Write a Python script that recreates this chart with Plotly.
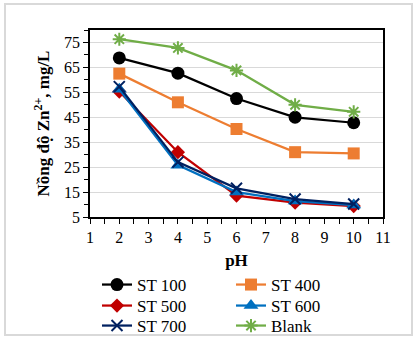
import plotly.graph_objects as go

ph = [2, 4, 6, 8, 10]
st100 = [68.8, 62.7, 52.5, 45.0, 42.8]
st400 = [62.5, 51.0, 40.3, 31.0, 30.5]
st500 = [55.3, 31.0, 13.6, 10.8, 9.4]
st600 = [56.2, 25.8, 15.0, 11.4, 9.8]
st700 = [57.3, 27.0, 16.5, 12.2, 10.2]
blank = [76.3, 72.8, 63.8, 50.0, 47.2]

names = ["ST 100", "ST 400", "ST 500", "ST 600", "ST 700", "Blank"]
values = [st100, st400, st500, st600, st700, blank]
colors = ["#000000", "#ED7D31", "#C00000", "#0070C0", "#002060", "#70AD47"]
symbols = ["circle", "square", "diamond", "triangle-up", "x-thin-open", "asterisk-open"]
sizes = [13, 12, 11, 13, 11, 11]

W, H = 415, 341
L, R, T, B = 90, 383, 30, 217
# legend slots (pixel positions): left x, centre y
leg_pos = [(97, 285), (231, 285), (97, 306), (231, 306), (97, 326), (231, 326)]

serif = "'Times New Roman', 'Liberation Serif', 'DejaVu Serif', serif"


def px_x(p):
    return (p - L) / (R - L)


def px_y(p):
    return (B - p) / (B - T)


fig = go.Figure()
layout_legends = {}
for i, (name, ys, col, sym, sz) in enumerate(zip(names, values, colors, symbols, sizes)):
    marker = dict(symbol=sym, size=sz, color=col)
    if sym.endswith("open"):
        marker["line"] = dict(color=col, width=2)
    key = "legend" if i == 0 else f"legend{i + 1}"
    fig.add_trace(go.Scatter(
        x=ph, y=ys, name=name, mode="lines+markers", showlegend=True,
        line=dict(color=col, width=2.25), marker=marker, legend=key,
    ))
    lx, ly = leg_pos[i]
    layout_legends[key] = dict(
        x=px_x(lx), y=px_y(ly), xanchor="left", yanchor="middle",
        font=dict(family=serif, size=17, color="#000000"),
        bgcolor="rgba(0,0,0,0)", borderwidth=0, visible=True,
    )

fig.update_layout(
    width=W, height=H, showlegend=True,
    margin=dict(l=L, r=W - R, t=T, b=H - B, autoexpand=False),
    paper_bgcolor="white", plot_bgcolor="white",
    font=dict(family=serif, size=16, color="#000000"),
    xaxis=dict(
        range=[1, 11], dtick=1, tick0=1, showgrid=False, zeroline=False,
        showline=True, linecolor="#000000", linewidth=1.5, mirror=True,
        ticks="outside", ticklen=5, tickcolor="#000000",
        minor=dict(dtick=0.5, ticks="outside", ticklen=5, tickcolor="#000000"),
        title=dict(text="<b>pH</b>", font=dict(family=serif, size=17), standoff=9),
        tickfont=dict(family=serif, size=16),
    ),
    yaxis=dict(
        range=[5, 80], dtick=10, tick0=5, showgrid=True, gridcolor="#d9d9d9",
        gridwidth=1.2, zeroline=False,
        showline=True, linecolor="#000000", linewidth=1.5, mirror=True,
        ticks="outside", ticklen=5, tickcolor="#000000",
        minor=dict(dtick=5, ticks="outside", ticklen=4, tickcolor="#000000", showgrid=False),
        title=dict(text="<b>Nồng độ Zn<sup>2+</sup>, mg/L</b>", font=dict(family=serif, size=17), standoff=10),
        tickfont=dict(family=serif, size=16),
    ),
    shapes=[dict(type="rect", xref="paper", yref="paper",
                 x0=px_x(5), x1=px_x(412), y0=px_y(335), y1=px_y(4),
                 line=dict(color="#d9d9d9", width=2), layer="below")],
    **layout_legends,
)

fig.write_html("out.html")
